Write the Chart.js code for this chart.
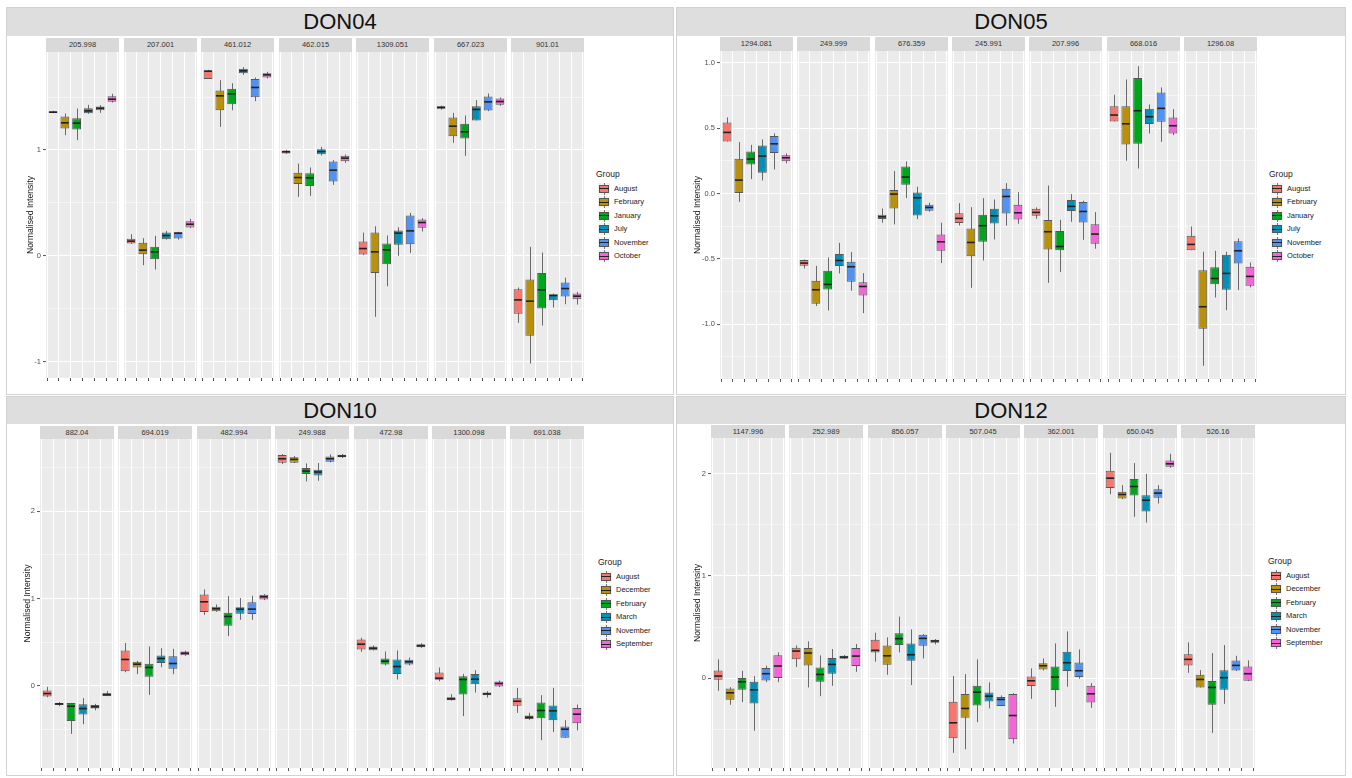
<!DOCTYPE html>
<html>
<head>
<meta charset="utf-8">
<script src="https://cdn.jsdelivr.net/npm/chart.js@4.4.1/dist/chart.umd.min.js"></script>
<style>
  body { margin: 0; width: 1352px; height: 778px; background: #fff; position: relative; overflow: hidden;
         font-family: "Liberation Sans", Arial, sans-serif; }
  .panel { position: absolute; border: 1px solid #d2d2d2; box-sizing: border-box; background: #fff; }
  .head { position: absolute; left: 0; right: 0; top: 0; background: #dedede; text-align: center;
          font-size: 22px; color: #111; }
  .strip { position: absolute; background: #d9d9d9; font-size: 7.5px; color: #333; text-align: center; }
  canvas { position: absolute; }
  .lgTitle { position: absolute; font-size: 8.5px; color: #222; line-height: 10px; }
  .lgLabel { position: absolute; font-size: 7.5px; color: #222; line-height: 10px; }
  .key { position: absolute; width: 12px; height: 12px; background: #f2f2f2; }
  .key .w { position: absolute; left: 5.5px; top: 0; width: 1px; height: 12px; background: #777; }
  .key .b { position: absolute; left: 1px; top: 2px; width: 10px; height: 8px; border: 1px solid #555; box-sizing: border-box; }
  .key .m { position: absolute; left: 1px; top: 5.5px; width: 10px; height: 1px; background: #222; }
</style>
</head>
<body>
<script>
// facet (m/z) labels
const don04Facets = ['205.998', '207.001', '461.012', '462.015', '1309.051', '667.023', '901.01'];
const don05Facets = ['1294.081', '249.999', '676.359', '245.991', '207.996', '668.016', '1296.08'];
const don10Facets = ['882.04', '694.019', '482.994', '249.988', '472.98', '1300.098', '691.038'];
const don12Facets = ['1147.996', '252.989', '856.057', '507.045', '362.001', '650.045', '526.16'];

// groups
const groupsA = ['August', 'February', 'January', 'July', 'November', 'October'];
const groupsB = ['August', 'December', 'February', 'March', 'November', 'September'];

// y tick labels
const don04Ticks = [-1, 0, 1];
const don05Ticks = [-1.0, -0.5, 0.0, 0.5, 1.0];
const don10Ticks = [0, 1, 2];
const don12Ticks = [0, 1, 2];

// boxes per facet, per group: [min, q1, median, q3, max]
const don04Boxes = [
  [[1.348, 1.350, 1.357, 1.366, 1.370], [1.140, 1.203, 1.257, 1.317, 1.345], [1.093, 1.194, 1.254, 1.301, 1.392], [1.342, 1.348, 1.370, 1.395, 1.427], [1.351, 1.376, 1.395, 1.411, 1.424], [1.449, 1.455, 1.480, 1.509, 1.531]],
  [[0.113, 0.117, 0.139, 0.161, 0.205], [-0.088, 0.016, 0.054, 0.123, 0.167], [-0.129, -0.031, 0.038, 0.085, 0.189], [0.154, 0.157, 0.192, 0.220, 0.236], [0.154, 0.164, 0.214, 0.224, 0.227], [0.261, 0.268, 0.299, 0.328, 0.350]],
  [[1.672, 1.672, 1.745, 1.751, 1.757], [1.219, 1.376, 1.512, 1.562, 1.660], [1.376, 1.433, 1.531, 1.578, 1.631], [1.710, 1.726, 1.748, 1.767, 1.783], [1.461, 1.499, 1.591, 1.672, 1.685], [1.676, 1.685, 1.710, 1.726, 1.739]],
  [[0.964, 0.967, 0.983, 0.995, 1.002], [0.557, 0.680, 0.740, 0.784, 0.872], [0.567, 0.661, 0.737, 0.781, 0.835], [0.948, 0.961, 0.986, 1.008, 1.030], [0.671, 0.702, 0.809, 0.891, 0.904], [0.879, 0.894, 0.923, 0.945, 0.957]],
  [[0.006, 0.013, 0.069, 0.135, 0.220], [-0.576, -0.161, 0.038, 0.220, 0.280], [-0.287, -0.079, 0.057, 0.117, 0.192], [0.000, 0.104, 0.214, 0.239, 0.271], [0.028, 0.110, 0.236, 0.381, 0.406], [0.230, 0.265, 0.315, 0.343, 0.356]],
  [[1.380, 1.389, 1.402, 1.414, 1.420], [1.068, 1.131, 1.225, 1.307, 1.351], [0.945, 1.109, 1.172, 1.247, 1.326], [1.279, 1.279, 1.383, 1.414, 1.471], [1.367, 1.373, 1.455, 1.506, 1.534], [1.417, 1.427, 1.458, 1.487, 1.496]],
  [[-0.633, -0.548, -0.416, -0.315, -0.299], [-1.017, -0.756, -0.428, -0.224, 0.085], [-0.658, -0.498, -0.321, -0.161, 0.031], [-0.488, -0.419, -0.375, -0.362, -0.356], [-0.457, -0.384, -0.309, -0.252, -0.205], [-0.460, -0.409, -0.381, -0.356, -0.340]]
];
const don05Boxes = [
  [[0.398, 0.398, 0.467, 0.543, 0.582], [-0.064, 0.000, 0.102, 0.265, 0.393], [0.110, 0.222, 0.263, 0.321, 0.372], [0.099, 0.158, 0.286, 0.367, 0.413], [0.184, 0.309, 0.380, 0.439, 0.459], [0.230, 0.247, 0.273, 0.293, 0.306]],
  [[-0.574, -0.554, -0.533, -0.510, -0.505], [-0.862, -0.844, -0.737, -0.668, -0.554], [-0.895, -0.735, -0.696, -0.592, -0.490], [-0.612, -0.556, -0.513, -0.464, -0.378], [-0.745, -0.676, -0.561, -0.523, -0.449], [-0.916, -0.781, -0.712, -0.679, -0.610]],
  [[-0.224, -0.196, -0.179, -0.163, -0.115], [-0.237, -0.115, -0.005, 0.026, 0.171], [-0.036, 0.066, 0.125, 0.207, 0.245], [-0.196, -0.168, -0.033, 0.008, 0.051], [-0.140, -0.133, -0.107, -0.087, -0.071], [-0.533, -0.439, -0.370, -0.314, -0.224]],
  [[-0.245, -0.227, -0.191, -0.151, -0.074], [-0.722, -0.480, -0.375, -0.268, -0.105], [-0.513, -0.370, -0.247, -0.163, -0.036], [-0.352, -0.230, -0.171, -0.117, -0.046], [-0.247, -0.153, -0.023, 0.036, 0.079], [-0.232, -0.199, -0.148, -0.087, 0.010]],
  [[-0.194, -0.171, -0.145, -0.117, -0.107], [-0.684, -0.429, -0.293, -0.204, 0.061], [-0.602, -0.434, -0.406, -0.288, -0.202], [-0.217, -0.135, -0.099, -0.051, -0.005], [-0.355, -0.222, -0.138, -0.066, -0.056], [-0.423, -0.385, -0.311, -0.235, -0.143]],
  [[0.551, 0.551, 0.600, 0.668, 0.755], [0.250, 0.375, 0.533, 0.668, 0.872], [0.191, 0.380, 0.633, 0.883, 0.974], [0.459, 0.531, 0.587, 0.648, 0.681], [0.395, 0.548, 0.651, 0.773, 0.811], [0.446, 0.459, 0.518, 0.582, 0.645]],
  [[-0.434, -0.434, -0.390, -0.324, -0.253], [-1.319, -1.036, -0.867, -0.587, -0.446], [-0.796, -0.694, -0.651, -0.564, -0.439], [-0.893, -0.737, -0.612, -0.469, -0.446], [-0.740, -0.536, -0.439, -0.365, -0.344], [-0.719, -0.707, -0.635, -0.561, -0.528]]
];
const don10Boxes = [
  [[-0.130, -0.122, -0.088, -0.053, -0.011], [-0.233, -0.218, -0.206, -0.195, -0.187], [-0.550, -0.401, -0.233, -0.195, -0.195], [-0.439, -0.328, -0.260, -0.210, -0.141], [-0.279, -0.260, -0.240, -0.218, -0.206], [-0.118, -0.115, -0.099, -0.084, -0.061]],
  [[0.156, 0.168, 0.302, 0.405, 0.492], [0.134, 0.210, 0.248, 0.275, 0.286], [-0.103, 0.103, 0.210, 0.252, 0.450], [0.214, 0.263, 0.313, 0.347, 0.431], [0.134, 0.195, 0.256, 0.340, 0.424], [0.344, 0.351, 0.374, 0.393, 0.401]],
  [[0.813, 0.844, 0.962, 1.046, 1.103], [0.847, 0.855, 0.882, 0.905, 0.931], [0.569, 0.687, 0.794, 0.836, 1.027], [0.756, 0.824, 0.878, 0.901, 1.004], [0.756, 0.821, 0.878, 0.958, 1.031], [0.981, 0.989, 1.019, 1.042, 1.050]],
  [[2.538, 2.553, 2.599, 2.641, 2.653], [2.550, 2.553, 2.592, 2.615, 2.630], [2.340, 2.424, 2.458, 2.492, 2.546], [2.347, 2.408, 2.447, 2.473, 2.550], [2.557, 2.565, 2.599, 2.626, 2.649], [2.607, 2.615, 2.630, 2.645, 2.653]],
  [[0.389, 0.416, 0.477, 0.531, 0.550], [0.405, 0.408, 0.431, 0.450, 0.462], [0.233, 0.244, 0.282, 0.313, 0.393], [0.073, 0.137, 0.221, 0.302, 0.405], [0.233, 0.244, 0.275, 0.298, 0.324], [0.435, 0.443, 0.458, 0.477, 0.489]],
  [[0.053, 0.069, 0.088, 0.153, 0.210], [-0.168, -0.164, -0.149, -0.130, -0.095], [-0.347, -0.099, 0.073, 0.111, 0.137], [-0.076, 0.019, 0.076, 0.137, 0.179], [-0.134, -0.107, -0.092, -0.076, -0.061], [-0.015, -0.008, 0.027, 0.050, 0.061]],
  [[-0.309, -0.229, -0.176, -0.141, -0.023], [-0.389, -0.378, -0.359, -0.340, -0.309], [-0.622, -0.370, -0.282, -0.191, -0.107], [-0.527, -0.393, -0.286, -0.225, -0.023], [-0.595, -0.595, -0.496, -0.466, -0.393], [-0.511, -0.427, -0.324, -0.252, -0.214]]
];
const don12Boxes = [
  [[-0.121, -0.013, 0.023, 0.078, 0.186], [-0.257, -0.208, -0.140, -0.098, -0.085], [-0.231, -0.111, -0.033, 0.003, 0.075], [-0.511, -0.244, -0.111, -0.033, 0.023], [-0.036, -0.020, 0.046, 0.101, 0.124], [-0.036, 0.003, 0.121, 0.225, 0.254]],
  [[0.111, 0.186, 0.267, 0.300, 0.322], [-0.088, 0.127, 0.248, 0.296, 0.362], [-0.173, -0.033, 0.039, 0.107, 0.225], [-0.072, 0.046, 0.137, 0.199, 0.287], [0.189, 0.192, 0.208, 0.221, 0.228], [0.065, 0.121, 0.218, 0.296, 0.336]],
  [[0.163, 0.254, 0.274, 0.378, 0.446], [0.036, 0.134, 0.221, 0.322, 0.401], [0.254, 0.326, 0.388, 0.440, 0.603], [-0.065, 0.173, 0.231, 0.342, 0.479], [0.195, 0.319, 0.391, 0.427, 0.433], [0.332, 0.349, 0.365, 0.378, 0.384]],
  [[-0.726, -0.583, -0.433, -0.228, 0.023], [-0.691, -0.384, -0.293, -0.153, 0.042], [-0.427, -0.264, -0.134, -0.072, 0.186], [-0.293, -0.225, -0.173, -0.137, -0.039], [-0.270, -0.270, -0.205, -0.182, -0.166], [-0.635, -0.593, -0.362, -0.153, -0.143]],
  [[-0.199, -0.075, -0.023, 0.020, 0.098], [0.078, 0.088, 0.124, 0.147, 0.195], [-0.277, -0.114, 0.013, 0.117, 0.342], [-0.081, 0.072, 0.153, 0.261, 0.459], [-0.003, 0.013, 0.075, 0.156, 0.283], [-0.287, -0.235, -0.150, -0.072, -0.046]],
  [[1.798, 1.857, 1.954, 2.026, 2.202], [1.749, 1.756, 1.795, 1.821, 1.886], [1.577, 1.785, 1.873, 1.945, 2.101], [1.521, 1.629, 1.739, 1.788, 1.997], [1.707, 1.762, 1.808, 1.847, 1.886], [2.055, 2.065, 2.094, 2.127, 2.192]],
  [[0.055, 0.127, 0.186, 0.235, 0.352], [-0.088, -0.088, -0.010, 0.036, 0.081], [-0.531, -0.257, -0.088, -0.026, 0.248], [-0.248, -0.111, 0.007, 0.081, 0.326], [0.072, 0.078, 0.127, 0.176, 0.221], [-0.026, -0.023, 0.046, 0.117, 0.176]]
];

const palette = ['#F8766D', '#B8900A', '#00A51E', '#0090B8', '#4F93F5', '#F564D9'];

// page layout of the four sub-figures
const panels = [
  { title: 'DON04', facets: don04Facets, groups: groupsA, boxes: don04Boxes, ticks: don04Ticks, dec: 0,
    box: [6, 7, 668, 388], headH: 28, stripTop: 38, stripH: 14, plotTop: 52, plotH: 326,
    fx: 46, fstep: 77.5, fw: 73, axisW: 25, ymin: -1.154, ymax: 1.926, legend: [596, 169] },
  { title: 'DON05', facets: don05Facets, groups: groupsA, boxes: don05Boxes, ticks: don05Ticks, dec: 1,
    box: [676, 7, 670, 388], headH: 28, stripTop: 37, stripH: 14, plotTop: 51, plotH: 328,
    fx: 720, fstep: 77.3, fw: 73, axisW: 32, ymin: -1.42, ymax: 1.09, legend: [1269, 169] },
  { title: 'DON10', facets: don10Facets, groups: groupsB, boxes: don10Boxes, ticks: don10Ticks, dec: 0,
    box: [6, 396, 668, 380], headH: 27, stripTop: 426, stripH: 13, plotTop: 439, plotH: 329,
    fx: 40, fstep: 78.4, fw: 74, axisW: 22, ymin: -0.94, ymax: 2.825, legend: [598, 557] },
  { title: 'DON12', facets: don12Facets, groups: groupsB, boxes: don12Boxes, ticks: don12Ticks, dec: 0,
    box: [676, 396, 670, 380], headH: 27, stripTop: 425, stripH: 13, plotTop: 438, plotH: 330,
    fx: 711, fstep: 78.3, fw: 74, axisW: 23, ymin: -0.874, ymax: 2.346, legend: [1268, 556] }
];

// whiskers behind the boxes, medians on top
const boxplotLines = {
  id: 'boxplotLines',
  beforeDatasetsDraw(chart) {
    const { ctx, scales: { x, y } } = chart;
    const stats = chart.data.datasets[0].boxStats;
    ctx.save();
    ctx.strokeStyle = '#6a6a6a';
    ctx.lineWidth = 1;
    stats.forEach((b, i) => {
      const px = Math.round(x.getPixelForValue(i + 1)) + 0.5;
      ctx.beginPath();
      ctx.moveTo(px, y.getPixelForValue(b[0]));
      ctx.lineTo(px, y.getPixelForValue(b[4]));
      ctx.stroke();
    });
    ctx.restore();
  },
  afterDatasetsDraw(chart) {
    const { ctx, scales: { y } } = chart;
    const stats = chart.data.datasets[0].boxStats;
    const bars = chart.getDatasetMeta(0).data;
    ctx.save();
    ctx.strokeStyle = '#222';
    ctx.lineWidth = 1.6;
    stats.forEach((b, i) => {
      const el = bars[i];
      const py = y.getPixelForValue(b[2]);
      ctx.beginPath();
      ctx.moveTo(el.x - el.width / 2 + 0.5, py);
      ctx.lineTo(el.x + el.width / 2 - 0.5, py);
      ctx.stroke();
    });
    ctx.restore();
  }
};

function el(tag, cls, css, text) {
  const e = document.createElement(tag);
  if (cls) e.className = cls;
  Object.assign(e.style, css);
  if (text !== undefined) e.textContent = text;
  document.body.appendChild(e);
  return e;
}

function yTickValues(p) {
  const major = p.ticks[1] - p.ticks[0];
  const minor = major / 2;
  const vals = [];
  for (let v = Math.ceil(p.ymin / minor) * minor; v <= p.ymax + 1e-9; v += minor) {
    vals.push(Math.round(v * 1000) / 1000);
  }
  return { vals, major };
}

function drawFacet(p, f, first) {
  const left = Math.round(p.fx + f * p.fstep);
  const axisW = first ? p.axisW : 0;
  const canvas = el('canvas', null, { left: (left - axisW) + 'px', top: p.plotTop + 'px' });
  canvas.width = p.fw + axisW;
  canvas.height = p.plotH + 3;

  const { vals, major } = yTickValues(p);
  const isMajor = v => Math.abs(v / major - Math.round(v / major)) < 1e-6;
  const stats = p.boxes[f];

  new Chart(canvas, {
    type: 'bar',
    data: {
      datasets: [{
        data: stats.map((b, i) => ({ x: i + 1, y: [b[1], b[3]] })),
        boxStats: stats,
        backgroundColor: palette,
        borderColor: '#575757',
        borderWidth: 1,
        borderSkipped: false,
        categoryPercentage: 1,
        barPercentage: 0.75
      }]
    },
    options: {
      responsive: false,
      animation: false,
      devicePixelRatio: 1,
      events: [],
      layout: { padding: 0 },
      plugins: { legend: { display: false }, tooltip: { enabled: false } },
      scales: {
        x: {
          type: 'linear', min: 0.4, max: 6.6, offset: false,
          afterBuildTicks: s => { s.ticks = [1, 2, 3, 4, 5, 6].map(v => ({ value: v })); },
          afterFit: s => { s.height = 3; s.paddingLeft = 0; s.paddingRight = 0; },
          ticks: { display: false },
          border: { display: false },
          grid: { color: '#ffffff', lineWidth: 1, drawTicks: true, tickLength: 3, tickColor: '#555', tickWidth: 1 }
        },
        y: {
          type: 'linear', min: p.ymin, max: p.ymax,
          afterBuildTicks: s => { s.ticks = vals.map(v => ({ value: v })); },
          afterFit: s => { s.width = axisW; s.paddingTop = 0; s.paddingBottom = 0; },
          border: { display: false },
          grid: {
            color: '#ffffff',
            lineWidth: c => isMajor(c.tick.value) ? 1.1 : 0.5,
            drawTicks: first,
            tickLength: 3,
            tickWidth: 1,
            tickColor: c => isMajor(c.tick.value) ? '#555' : 'rgba(0,0,0,0)'
          },
          ticks: {
            display: first,
            autoSkip: false,
            padding: 2,
            color: '#4d4d4d',
            font: { family: 'Liberation Sans', size: 7.5 },
            callback: v => isMajor(v) ? v.toFixed(p.dec) : ''
          },
          title: {
            display: first,
            text: 'Normalised Intensity',
            color: '#1a1a1a',
            padding: { top: 4, bottom: 0 },
            font: { family: 'Liberation Sans', size: 8.6 }
          }
        }
      },
      chartArea: { backgroundColor: '#ebebeb' }
    },
    plugins: [{
      id: 'panelBg',
      beforeDraw(chart) {
        const { ctx, chartArea: a } = chart;
        ctx.save();
        ctx.fillStyle = '#ebebeb';
        ctx.fillRect(a.left, a.top, a.right - a.left, a.bottom - a.top);
        ctx.restore();
      }
    }, boxplotLines]
  });

  el('div', 'strip', {
    left: left + 'px', top: p.stripTop + 'px', width: p.fw + 'px',
    height: p.stripH + 'px', lineHeight: p.stripH + 'px'
  }, p.facets[f]);
}

function drawLegend(p) {
  const [lx, ly] = p.legend;
  el('div', 'lgTitle', { left: lx + 'px', top: ly + 'px' }, 'Group');
  p.groups.forEach((g, i) => {
    const top = ly + 13.5 + i * 13.5;
    const k = el('div', 'key', { left: (lx + 2) + 'px', top: top + 'px' });
    const w = document.createElement('div'); w.className = 'w'; k.appendChild(w);
    const b = document.createElement('div'); b.className = 'b'; b.style.background = palette[i]; k.appendChild(b);
    const m = document.createElement('div'); m.className = 'm'; k.appendChild(m);
    el('div', 'lgLabel', { left: (lx + 18) + 'px', top: (top + 1) + 'px' }, g);
  });
}

panels.forEach(p => {
  const [bx, by, bw, bh] = p.box;
  const pnl = el('div', 'panel', { left: bx + 'px', top: by + 'px', width: bw + 'px', height: bh + 'px' });
  const head = document.createElement('div');
  head.className = 'head';
  head.style.height = p.headH + 'px';
  head.style.lineHeight = p.headH + 'px';
  head.textContent = p.title;
  pnl.appendChild(head);
  p.facets.forEach((_, f) => drawFacet(p, f, f === 0));
  drawLegend(p);
});
</script>
</body>
</html>
